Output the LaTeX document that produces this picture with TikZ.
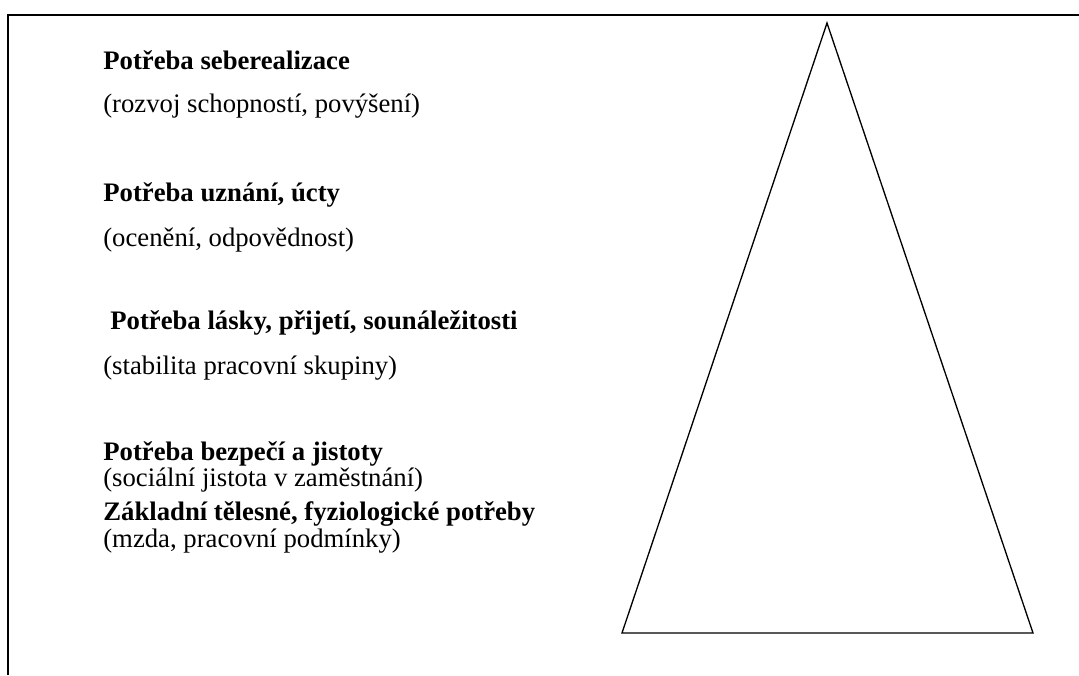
\documentclass[tikz,border=0pt]{standalone}
\usepackage{fontspec}
\setmainfont{Liberation Serif}
\usetikzlibrary{positioning}

\begin{document}
\begin{tikzpicture}[
    need/.style={anchor=base west, inner sep=0pt, font=\fontsize{15.2}{18}\selectfont\bfseries},
    note/.style={anchor=base west, inner sep=0pt, font=\fontsize{15.2}{18}\selectfont},
    frame/.style={draw=black, line width=1.1pt},
    pyr/.style={draw=black, line width=0.75pt, line join=miter}
]
\useasboundingbox (0,0) rectangle (21.58,13.5);

% Frame
\draw[frame] (0.16,0) -- (0.16,13.2) -- (21.58,13.2);

% Pyramid
\coordinate (top) at (16.54,13.04);
\coordinate (bl) at (12.44,0.84);
\coordinate (br) at (20.66,0.84);
\draw[pyr] (top) -- (br) -- (bl) -- cycle;

% Needs
\node[need] (n1) at (2.06,12.10) {Potřeba seberealizace};
\node[note] (d1) at (2.06,11.24) {(rozvoj schopností, povýšení)};
\node[need] (n2) at (2.06,9.46) {Potřeba uznání, úcty};
\node[note] (d2) at (2.06,8.56) {(ocenění, odpovědnost)};
\node[need] (n3) at (2.20,6.90) {Potřeba lásky, přijetí, sounáležitosti};
\node[note] (d3) at (2.06,6.00) {(stabilita pracovní skupiny)};
\node[need] (n4) at (2.06,4.30) {Potřeba bezpečí a jistoty};
\node[note] (d4) at (2.06,3.76) {(sociální jistota v zaměstnání)};
\node[need] (n5) at (2.06,3.10) {Základní tělesné, fyziologické potřeby};
\node[note] (d5) at (2.06,2.56) {(mzda, pracovní podmínky)};
\end{tikzpicture}
\end{document}
